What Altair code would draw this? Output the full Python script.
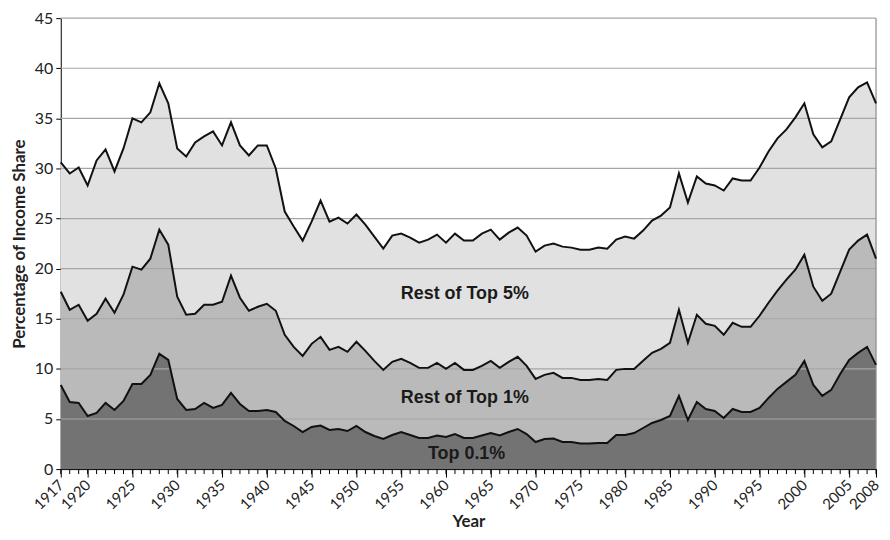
import altair as alt
import pandas as pd

years = list(range(1917, 2009))

top5 = [30.6, 29.5, 30.1, 28.3, 30.8, 31.9, 29.7, 32.0, 35.0, 34.6,
        35.6, 38.5, 36.5, 32.0, 31.2, 32.6, 33.2, 33.7, 32.3, 34.6,
        32.3, 31.3, 32.3, 32.3, 30.0, 25.7, 24.2, 22.8, 24.7, 26.8,
        24.7, 25.1, 24.5, 25.4, 24.4, 23.2, 22.0, 23.3, 23.5, 23.1,
        22.6, 22.9, 23.4, 22.6, 23.5, 22.8, 22.8, 23.5, 23.9, 22.9,
        23.6, 24.1, 23.3, 21.7, 22.3, 22.5, 22.2, 22.1, 21.9, 21.9,
        22.1, 22.0, 22.9, 23.2, 23.0, 23.8, 24.8, 25.3, 26.1, 29.5,
        26.6, 29.2, 28.5, 28.3, 27.8, 29.0, 28.8, 28.8, 30.1, 31.7,
        33.0, 33.9, 35.1, 36.5, 33.4, 32.1, 32.7, 34.9, 37.1, 38.1,
        38.6, 36.5]

top1 = [17.7, 15.9, 16.4, 14.8, 15.5, 17.0, 15.6, 17.4, 20.2, 19.9,
        21.0, 23.9, 22.4, 17.2, 15.4, 15.5, 16.4, 16.4, 16.7, 19.3,
        17.1, 15.8, 16.2, 16.5, 15.8, 13.4, 12.2, 11.3, 12.5, 13.2,
        11.9, 12.2, 11.7, 12.7, 11.8, 10.8, 9.9, 10.7, 11.0, 10.6,
        10.1, 10.1, 10.6, 10.0, 10.6, 9.9, 9.9, 10.3, 10.8, 10.1,
        10.7, 11.2, 10.3, 9.0, 9.4, 9.6, 9.1, 9.1, 8.9, 8.9,
        9.0, 8.9, 9.9, 10.0, 10.0, 10.8, 11.6, 12.0, 12.6, 15.9,
        12.6, 15.4, 14.5, 14.3, 13.4, 14.6, 14.2, 14.2, 15.3, 16.6,
        17.8, 18.9, 19.9, 21.4, 18.2, 16.8, 17.5, 19.7, 21.9, 22.8,
        23.4, 21.0]

top01 = [8.4, 6.7, 6.6, 5.3, 5.6, 6.6, 5.9, 6.8, 8.5, 8.5,
         9.4, 11.5, 10.9, 7.0, 5.9, 6.0, 6.6, 6.1, 6.4, 7.6,
         6.5, 5.8, 5.8, 5.9, 5.7, 4.8, 4.3, 3.7, 4.2, 4.35,
         3.9, 4.0, 3.8, 4.3, 3.7, 3.3, 3.0, 3.4, 3.7, 3.4,
         3.1, 3.1, 3.35, 3.2, 3.5, 3.1, 3.1, 3.35, 3.6, 3.35,
         3.7, 4.0, 3.5, 2.7, 3.0, 3.05, 2.7, 2.7, 2.55, 2.55,
         2.6, 2.6, 3.4, 3.4, 3.6, 4.1, 4.6, 4.9, 5.3, 7.3,
         4.9, 6.7, 6.0, 5.8, 5.1, 6.0, 5.7, 5.7, 6.1, 7.1,
         8.0, 8.7, 9.4, 10.8, 8.4, 7.3, 7.9, 9.5, 10.9, 11.6,
         12.2, 10.4]

major_years = [1917, 1920, 1925, 1930, 1935, 1940, 1945, 1950, 1955, 1960,
               1965, 1970, 1975, 1980, 1985, 1990, 1995, 2000, 2005, 2008]
y_ticks = [0, 5, 10, 15, 20, 25, 30, 35, 40, 45]
grid_values = [5, 10, 15, 20, 25, 30, 35, 40, 45]

label_text = ["Rest of Top 5%", "Rest of Top 1%", "Top 0.1%"]
label_year = [1962.1, 1962.1, 1962.3]
label_value = [17.5, 7.1, 1.5]

W, H = 819, 453
FONT = "Lato"

df = pd.DataFrame({"year": years, "t": top5, "m": top1, "b": top01, "zero": 0})

xscale = alt.Scale(domain=[1917, 2008], nice=False, zero=False)
yscale = alt.Scale(domain=[0, 45], nice=False)

x_axis = alt.Axis(values=major_years, format="d", labelAngle=-45, labelAlign="right",
                  labelBaseline="middle", tickSize=8, tickColor="black", domainColor="black",
                  labelFont=FONT, labelFontSize=15, labelColor="#222", labelPadding=5,
                  labelOverlap=False, labelFlush=False,
                  grid=False, title="Year", titleFont=FONT, titleFontSize=17,
                  titleFontWeight="bold", titleColor="#222", titlePadding=1)
y_axis = alt.Axis(values=y_ticks, tickSize=5, tickColor="black", domainColor="black",
                  labelFont=FONT, labelFontSize=16, labelColor="#222", labelPadding=3,
                  labelFlush=False, labelOverlap=False,
                  grid=False, title="Percentage of Income Share", titleFont=FONT,
                  titleFontSize=17, titleFontWeight="bold", titleColor="#222",
                  titlePadding=6)

base = alt.Chart(df)

area_bottom = base.mark_area(color="#737373", opacity=1).encode(
    x=alt.X("year:Q", scale=xscale, axis=x_axis),
    y=alt.Y("b:Q", scale=yscale, axis=y_axis),
    y2="zero:Q")
area_mid = base.mark_area(color="#bababa", opacity=1).encode(
    x=alt.X("year:Q", scale=xscale), y=alt.Y("m:Q", scale=yscale), y2="b:Q")
area_top = base.mark_area(color="#e1e1e1", opacity=1).encode(
    x=alt.X("year:Q", scale=xscale), y=alt.Y("t:Q", scale=yscale), y2="m:Q")

grid = alt.Chart(pd.DataFrame({"v": grid_values})).mark_rule(
    color="#a6a6a6", strokeWidth=1.2).encode(
    y=alt.Y("v:Q", scale=yscale), x=alt.value(0), x2=alt.value(W))

right_edge = alt.Chart(pd.DataFrame({"v": [0]})).mark_rule(
    color="#8c8c8c", strokeWidth=1.2).encode(
    x=alt.value(W), y=alt.value(0), y2=alt.value(H))

minor_ticks = alt.Chart(pd.DataFrame({"year": years})).mark_rule(
    color="black", strokeWidth=1).encode(
    x=alt.X("year:Q", scale=xscale), y=alt.value(H), y2=alt.value(H + 5))

lines = []
for fld in ["b", "m", "t"]:
    lines.append(base.mark_line(color="#111", strokeWidth=2).encode(
        x=alt.X("year:Q", scale=xscale), y=alt.Y(f"{fld}:Q", scale=yscale)))

labels = alt.Chart(pd.DataFrame({"text": label_text, "year": label_year,
                                 "value": label_value})).mark_text(
    font="Liberation Sans", fontSize=18, fontWeight="bold", color="#1a1a1a",
    align="center", baseline="middle").encode(
    x=alt.X("year:Q", scale=xscale), y=alt.Y("value:Q", scale=yscale), text="text:N")

chart = alt.layer(area_bottom, area_mid, area_top, grid, right_edge, minor_ticks,
                  *lines, labels).properties(
    width=W, height=H,
    autosize=alt.AutoSizeParams(type="none"),
    padding={"left": 53, "top": 9, "right": 6, "bottom": 62},
    background="white",
).configure_view(stroke=None)

chart.save("out.html", embed_options={"renderer": "svg", "actions": False})
